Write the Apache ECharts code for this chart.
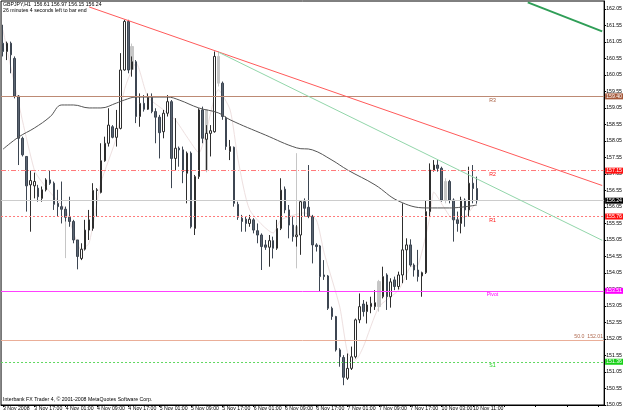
<!DOCTYPE html>
<html>
<head>
<meta charset="utf-8">
<script src="https://cdn.jsdelivr.net/npm/echarts@6/dist/echarts.min.js"></script>
<style>
html,body{margin:0;padding:0;background:#fff;}
#chart{width:625px;height:415px;}
</style>
</head>
<body>
<div id="chart"></div>
<script>
// GBPJPY H1, one tick label every 8 bars
const xTickLabels = ['3 Nov 2008','3 Nov 17:00','4 Nov 01:00','4 Nov 09:00','4 Nov 17:00','5 Nov 01:00',
  '5 Nov 09:00','5 Nov 17:00','6 Nov 01:00','6 Nov 09:00','6 Nov 17:00','7 Nov 01:00','7 Nov 09:00',
  '7 Nov 17:00','10 Nov 03:00','10 Nov 11:00'];
const slotCount = 154; // bars + empty shift on the right

// [open, close, low, high], null = bar drawn only in gray
const candles = [
  [161.01,160.76,160.61,161.57],[160.76,161.01,160.50,161.06],[161.01,160.66,160.10,161.06],[160.55,159.41,159.34,160.61],
  [159.41,158.13,157.32,159.44],[158.13,157.63,157.58,158.18],[157.58,156.69,155.91,157.58],[156.72,156.85,155.30,157.15],
  [156.69,156.82,156.31,157.09],[156.62,156.36,156.21,156.72],[156.31,156.57,156.21,156.67],[156.57,156.87,156.52,156.92],
  [156.87,156.77,156.72,157.15],[156.77,156.13,155.96,156.82],[156.16,156.06,155.76,156.57],[156.06,155.98,155.55,156.82],
  [155.98,155.74,155.61,156.06],[155.74,155.61,155.45,156.36],[155.61,155.05,154.95,155.66],[155.05,154.55,154.16,155.05],
  [154.49,154.77,154.44,154.95],[154.77,155.35,154.73,155.66],[155.35,155.66,155.05,155.96],[155.40,156.55,155.33,156.77],
  [156.55,156.57,155.76,156.62],[156.49,157.45,156.46,157.98],[157.45,157.98,157.42,158.18],[157.98,158.53,157.88,159.04],
  [158.48,158.16,158.13,158.53],[158.16,158.43,157.88,158.99],[158.43,160.20,158.40,160.71],[160.20,161.67,160.18,161.72],
  [161.67,160.20,160.10,161.72],[160.22,160.45,160.00,160.61],[160.45,158.79,158.59,160.50],[158.79,159.19,158.48,159.49],
  [159.19,159.01,158.94,159.44],[159.01,159.37,158.99,159.49],[159.37,158.94,158.89,159.49],[158.94,158.77,157.98,159.04],
  [158.77,158.30,157.52,158.84],[158.33,158.89,158.13,158.99],[158.89,159.24,158.79,159.44],[159.24,157.52,156.62,159.29],
  [157.52,157.83,157.17,158.74],[157.83,157.78,157.27,157.88],[157.78,157.12,156.77,157.88],[157.07,157.68,156.16,157.73],
  [157.68,155.45,155.40,157.73],[155.40,156.97,155.20,157.02],[156.97,158.99,156.90,159.04],[158.99,158.13,157.98,159.09],
  [158.10,158.28,157.17,158.53],[158.28,158.36,157.58,158.53],[158.33,160.61,158.30,160.76],null,
  [159.80,158.79,158.69,159.85],[158.74,157.88,157.78,158.79],[157.73,157.88,157.47,158.08],[157.86,156.16,156.06,157.88],
  [156.13,155.74,155.66,156.21],[155.71,155.61,155.30,155.81],[155.68,155.55,155.30,155.76],[155.55,155.68,155.45,155.81],
  [155.66,155.35,155.25,155.71],[155.33,155.20,154.95,155.55],[155.20,154.85,154.14,155.25],[154.90,154.83,154.75,155.05],
  [154.83,155.03,154.24,155.20],[155.03,154.80,154.49,155.15],[154.80,155.40,154.75,155.66],[155.40,156.56,155.35,156.92],
  [156.59,155.96,155.86,156.67],[155.96,155.50,155.10,156.11],[155.50,155.15,155.00,155.76],[155.15,155.20,154.85,155.50],
  [155.20,156.21,154.60,156.26],[156.21,156.01,155.76,156.31],[156.04,155.76,155.71,157.32],[155.76,154.90,154.34,155.81],
  [154.90,154.85,154.70,154.95],[154.87,153.94,153.48,154.90],[153.99,153.94,153.84,154.44],[153.96,152.98,152.93,153.99],
  [152.98,152.73,152.63,153.03],[152.73,151.72,151.67,152.75],[151.72,151.51,151.21,151.77],[151.49,150.89,150.65,151.56],
  [150.86,151.16,150.81,151.61],[151.16,151.51,151.11,151.82],[151.51,152.63,151.46,152.67],[152.63,153.03,152.53,153.43],
  [153.11,152.88,152.73,153.23],[152.88,153.08,152.52,153.18],[153.03,153.13,152.83,153.33],[153.03,153.15,152.93,153.53],
  null,[153.33,153.94,153.28,154.24],[153.99,153.33,152.93,154.04],[153.33,153.78,153.00,153.89],
  [153.84,153.64,153.53,153.94],[153.64,153.99,153.55,154.09],[153.99,154.75,153.74,156.16],[154.75,154.90,153.84,155.10],
  [154.90,154.29,154.24,155.07],[154.29,154.14,153.94,154.34],[154.14,153.94,153.79,154.75],[153.96,154.06,153.33,154.09],
  [154.06,155.91,154.02,156.26],[155.91,157.17,155.76,157.37],[157.17,157.32,157.12,157.47],[157.32,157.22,157.12,157.47],
  [157.22,156.26,156.21,157.27],null,[156.82,156.26,156.16,156.87],[156.26,155.66,155.00,156.31],
  [155.66,155.55,155.30,155.91],[155.55,156.26,155.25,156.36],[156.26,155.96,155.45,156.31],[155.96,156.77,155.76,157.27],
  [156.77,156.61,156.16,157.32],[156.61,156.24,156.15,156.97]
];

// light gray bars: bar index -> [open, close, low, high]
const grayBars = {
  16: [155.98,155.74,154.50,156.06],
  33: [160.91,160.22,160.00,161.00],
  52: [158.99,157.17,157.10,159.00],
  55: [160.61,159.80,159.70,160.76],
  75: [155.20,155.45,154.19,157.68],
  96: [153.03,153.79,152.88,153.84],
  113: [156.26,156.82,156.16,156.92]
};

// slow moving average, read at [bar index, price]
const maLine = [[0,157.80],[4,158.17],[8,158.44],[12,158.78],[15,159.14],[18,159.14],[22,159.05],[25,159.05],
  [29,159.20],[31,159.29],[34,159.38],[42,159.38],[45,159.29],[50,159.05],[55,158.90],[58,158.69],[67,158.23],
  [75,157.84],[79,157.78],[84,157.47],[88,157.17],[95,156.72],[101,156.23],[108,156.02],[114,156.02],[121,156.11]];

// thin light line
const fastLine = [[0,161.41],[8,157.17],[12,156.50],[16,155.96],[20,154.75],[22,154.96],[25,156.78],[29,158.17],
  [31,159.60],[34,160.41],[37,159.38],[41,158.99],[44,158.69],[47,158.17],[50,157.69],[55,159.60],[58,158.99],
  [60,157.50],[63,155.96],[69,155.26],[71,155.66],[77,155.87],[80,155.66],[82,154.66],[86,153.02],[88,151.63],
  [90,151.41],[92,151.81],[96,153.02],[101,153.53],[104,154.23],[106,154.29],[109,155.75],[110,156.50],
  [113,155.96],[115,155.66],[118,155.75],[120,156.05],[121,156.17]];

// pivot levels
const levelNames = ['R3','R2','R1','Pivot','S1'];
const levelValues = [159.40, 157.15, 155.76, 153.51, 151.36];
const lastPrice = 156.24;
const fiboValue = 152.01;
const fiboLabel = '50.0  152.01';

// trend lines [[bar, price], [bar, price]]
const trendRed = [[22,162.11],[153,156.70]];
const trendLightGreen = [[55,160.74],[153,155.04]];
const trendGreen = [[134,162.25],[153,161.37]];

const FONT = 'Liberation Sans';
const FS = 5.2;
const levelStyle = {
  R3:    {color:'#bd8a74', box:'#a5583a', type:'solid'},
  R2:    {color:'#ff7a7a', box:'#ff1010', type:[5,2,1,2]},
  R1:    {color:'#ff7a7a', box:'#ff1010', type:[2,2]},
  Pivot: {color:'#ff40ff', box:'#ff00ff', type:'solid'},
  S1:    {color:'#60d860', box:'#18d018', type:[2,2]}
};

const cats = Array.from({length: slotCount}, (_, i) => String(i));
const mainData = cats.map((_, i) => candles[i] ? candles[i] : '-');
const grayData = cats.map((_, i) => grayBars[i] ? grayBars[i] : '-');

const boxLabel = (bg) => ({
  show:true, position:'end', distance:1, formatter:(p)=>p.value.toFixed(2),
  backgroundColor:bg, color:'#fff', fontSize:FS, fontFamily:FONT, padding:[1,1,0,1]
});

const levelLines = levelNames.map((n, i) => ({
  yAxis: levelValues[i],
  lineStyle:{color:levelStyle[n].color, type:levelStyle[n].type, width:1},
  label: boxLabel(levelStyle[n].box)
}));
levelLines.push({yAxis:lastPrice, lineStyle:{color:'#cccccc', type:'solid', width:1}, label:boxLabel('#000')});
levelLines.push({yAxis:fiboValue, lineStyle:{color:'#eaae98', type:'solid', width:1},
  label:{show:true, position:'insideEndTop', distance:1, formatter:fiboLabel, color:'#b06a50', fontSize:FS, fontFamily:FONT}});

const levelTexts = levelNames.map((n, i) => ({
  coord:[125, levelValues[i]], value:n,
  label:{show:true, position:'bottom', distance:1, formatter:n, color:levelStyle[n].box, fontSize:FS, fontFamily:FONT}
}));

const seg = (pts, color, width) => [
  {coord:pts[0], lineStyle:{color:color, width:width, type:'solid'}},
  {coord:pts[1]}
];

const chart = echarts.init(document.getElementById('chart'));
const option = {
  backgroundColor:'#fff',
  animation:false,
  title:[
    {text:'GBPJPY,H1  156.61 156.97 156.15 156.24', subtext:'26 minutes 4 seconds left to bar end',
     left:3, top:2, padding:0, itemGap:1,
     textStyle:{fontSize:FS, fontWeight:'normal', color:'#000', fontFamily:FONT},
     subtextStyle:{fontSize:FS, color:'#000', fontFamily:FONT}},
    {text:'Interbank FX Trader 4, © 2001-2008 MetaQuotes Software Corp.', left:3, bottom:13, padding:0,
     textStyle:{fontSize:FS, fontWeight:'normal', color:'#000', fontFamily:FONT}}
  ],
  grid:{left:1, right:18, top:1, bottom:10, show:true, borderColor:'#000', borderWidth:1, backgroundColor:'#fff'},
  xAxis:{
    type:'category', data:cats, boundaryGap:true,
    axisLine:{show:true, lineStyle:{color:'#000', width:1}},
    axisTick:{show:true, interval:7, length:2, alignWithLabel:true, lineStyle:{color:'#000'}},
    axisLabel:{interval:7, align:'left', margin:1, fontSize:FS, fontFamily:FONT, color:'#000',
      formatter:(v, i) => xTickLabels[i / 8] || ''},
    splitLine:{show:false}
  },
  yAxis:{
    type:'value', position:'right', min:150.05, max:162.29, interval:0.5,
    axisLine:{show:true, lineStyle:{color:'#000', width:1}},
    axisTick:{show:true, length:2, lineStyle:{color:'#000'}},
    axisLabel:{margin:2, fontSize:FS, fontFamily:FONT, color:'#000', showMaxLabel:false,
      formatter:(v) => v.toFixed(2)},
    splitLine:{show:false}
  },
  series:[
    {
      name:'levels', type:'line', data:fastLine, symbol:'none', smooth:0.2, z:1,
      lineStyle:{color:'#eee0e0', width:1},
      markLine:{symbol:['none','none'], silent:true, animation:false, data:levelLines},
      markPoint:{symbol:'circle', symbolSize:1, itemStyle:{color:'rgba(0,0,0,0)'}, silent:true, data:levelTexts}
    },
    {
      name:'gray', type:'candlestick', data:grayData, barWidth:3, z:2,
      itemStyle:{color:'#c6c6c6', color0:'#c6c6c6', borderColor:'#c6c6c6', borderColor0:'#c6c6c6', borderWidth:1}
    },
    {
      name:'GBPJPY', type:'candlestick', data:mainData, barWidth:2, z:3,
      itemStyle:{color:'#ffffff', color0:'#5b6572', borderColor:'#2e2e2e', borderColor0:'#3d4652', borderWidth:1}
    },
    {
      name:'MA', type:'line', data:maLine, symbol:'none', smooth:0.4, z:4,
      lineStyle:{color:'#555', width:1},
      markLine:{symbol:['none','none'], silent:true, animation:false,
        data:[seg(trendRed,'#ff5a5a',1), seg(trendLightGreen,'#92d6aa',1), seg(trendGreen,'#2f9e57',2)]}
    }
  ]
};
chart.setOption(option);
</script>
</body>
</html>
